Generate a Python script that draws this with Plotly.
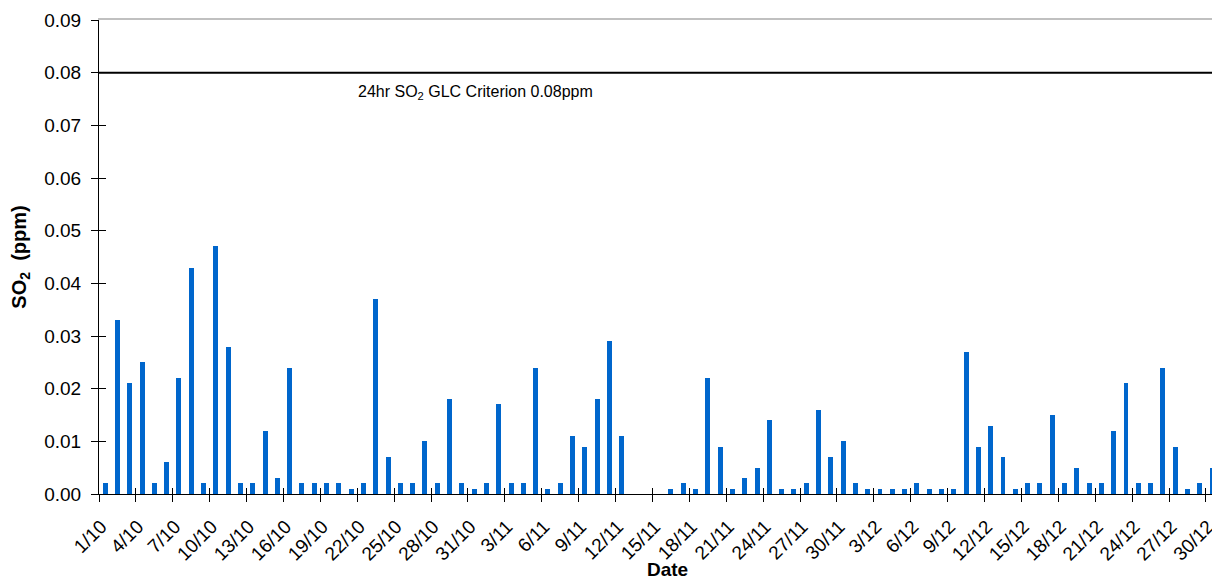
import plotly.graph_objects as go
import pandas as pd

# Daily 24hr SO2 (ppm), 1 Oct - 30 Dec
so2_oct = [0.002, 0.033, 0.021, 0.025, 0.002, 0.006, 0.022, 0.043, 0.002, 0.047,
           0.028, 0.002, 0.002, 0.012, 0.003, 0.024, 0.002, 0.002, 0.002, 0.002,
           0.001, 0.002, 0.037, 0.007, 0.002, 0.002, 0.010, 0.002, 0.018, 0.002,
           0.001]
so2_nov = [0.002, 0.017, 0.002, 0.002, 0.024, 0.001, 0.002, 0.011, 0.009, 0.018,
           0.029, 0.011, None, None, None, 0.001, 0.002, 0.001, 0.022, 0.009,
           0.001, 0.003, 0.005, 0.014, 0.001, 0.001, 0.002, 0.016, 0.007, 0.010]
so2_dec = [0.002, 0.001, 0.001, 0.001, 0.001, 0.002, 0.001, 0.001, 0.001, 0.027,
           0.009, 0.013, 0.007, 0.001, 0.002, 0.002, 0.015, 0.002, 0.005, 0.002,
           0.002, 0.012, 0.021, 0.002, 0.002, 0.024, 0.009, 0.001, 0.002, 0.005]
criterion = 0.08
criterion_label = "24hr SO<sub>2</sub> GLC Criterion 0.08ppm"
x_title = "<b>Date</b>"
y_title = "<b>SO<sub>2</sub>  (ppm)</b>"
y_ticks = [0.00, 0.01, 0.02, 0.03, 0.04, 0.05, 0.06, 0.07, 0.08, 0.09]

so2 = so2_oct + so2_nov + so2_dec
dates = pd.date_range("2000-10-01", periods=len(so2), freq="D")
date_labels = [f"{d.day}/{d.month}" for d in dates]
x = list(range(len(so2)))
label_pos = x[::3]
label_text = date_labels[::3]
boundaries = [v - 0.5 for v in label_pos]

FONT = "Liberation Sans, Arial, sans-serif"
xrange = [-0.5, 90.64]
yrange = [0, 0.09]

fig = go.Figure()
fig.add_bar(x=x, y=so2, width=0.4, marker=dict(color="#0066CC", line=dict(width=0)),
            showlegend=False, hoverinfo="skip")
# empty helper traces so the overlay (tick / frame) axes get drawn
for xa, ya in [("x2", "y"), ("x3", "y"), ("x4", "y"), ("x", "y2"), ("x", "y3")]:
    fig.add_scatter(x=[], y=[], xaxis=xa, yaxis=ya, showlegend=False, hoverinfo="skip")

fig.add_shape(type="line", xref="paper", x0=0, x1=1, yref="y", y0=criterion, y1=criterion,
              line=dict(color="black", width=2))
fig.add_annotation(text=criterion_label, xref="paper", x=0.229, xanchor="left",
                   yref="y", y=criterion, yanchor="top", yshift=-8, showarrow=False,
                   font=dict(family=FONT, size=16, color="black"))
fig.add_annotation(text=x_title, xref="paper", x=0.507, xanchor="center",
                   yref="paper", y=0, yanchor="top", yshift=-63, showarrow=False,
                   font=dict(family=FONT, size=19, color="black"))

hidden = dict(showticklabels=False, showline=False, showgrid=False, zeroline=False,
              automargin=False)

fig.update_layout(
    width=1220, height=582,
    margin=dict(l=91, r=8, t=12, b=96),
    paper_bgcolor="white", plot_bgcolor="white",
    font=dict(family=FONT, color="black"),
    bargap=0,
    xaxis=dict(
        range=xrange, tickmode="array", tickvals=label_pos, ticktext=label_text,
        ticks="outside", ticklen=13, tickcolor="rgba(0,0,0,0)", tickangle=-45,
        tickfont=dict(size=19), ticklabelshift=-4,
        showline=True, linecolor="black", linewidth=1,
        showgrid=False, zeroline=False, automargin=False,
    ),
    xaxis2=dict(overlaying="x", matches="x", anchor="y", side="bottom",
                tickmode="array", tickvals=boundaries, ticks="outside", ticklen=7,
                tickcolor="black", **hidden),
    xaxis3=dict(overlaying="x", matches="x", anchor="y", side="bottom",
                tickmode="array", tickvals=boundaries, ticks="inside", ticklen=6,
                tickcolor="black", **hidden),
    xaxis4=dict(overlaying="x", matches="x", anchor="y", side="top",
                ticks="", showticklabels=False, showgrid=False, zeroline=False,
                automargin=False, showline=True, linecolor="#C0C0C0", linewidth=2),
    yaxis=dict(
        range=yrange, tickmode="array", tickvals=y_ticks, tickformat=".2f",
        ticks="outside", ticklen=7, tickcolor="black", tickfont=dict(size=19),
        ticklabelstandoff=6,
        showline=True, linecolor="black", linewidth=1,
        showgrid=False, zeroline=False, automargin=False,
        title=dict(text=y_title, font=dict(size=20), standoff=22),
    ),
    yaxis2=dict(overlaying="y", matches="y", anchor="x", side="left",
                tickmode="array", tickvals=y_ticks, ticks="inside", ticklen=7,
                tickcolor="black", **hidden),
    yaxis3=dict(overlaying="y", matches="y", anchor="x", side="left",
                tickmode="array", tickvals=y_ticks, ticks="", **hidden),
)

fig.write_html("out.html")
